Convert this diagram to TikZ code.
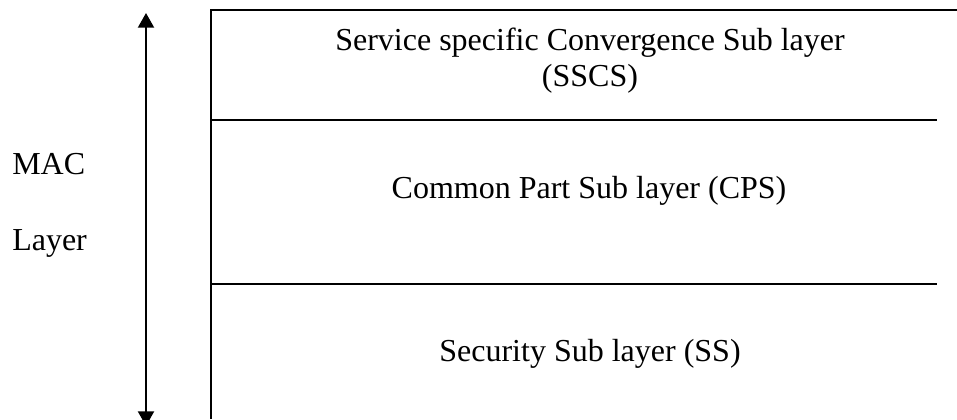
\documentclass[tikz,border=0pt]{standalone}
\usepackage{fontspec}
\setmainfont{Liberation Serif}
\usetikzlibrary{arrows.meta}
\begin{document}
\begin{tikzpicture}[x=0.75pt,y=-0.75pt,
  lbl/.style={anchor=base,inner sep=0pt,font=\fontsize{24}{27}\selectfont},
  boxline/.style={line width=1.5pt},
  dblarrow/.style={line width=1.5pt,{Triangle[width=12pt,length=11pt]}-{Triangle[width=12pt,length=11pt]}}]
\useasboundingbox (0,0) rectangle (957,419);
% layer frame
\coordinate (tl) at (211,10);
\coordinate (tr) at (957,10);
\coordinate (bl) at (211,419);
\coordinate (m1l) at (211,120);
\coordinate (m1r) at (937,120);
\coordinate (m2l) at (211,284);
\coordinate (m2r) at (937,284);
\draw[boxline] (tr) -- (tl) -- (bl);
\draw[boxline] (m1l) -- (m1r);
\draw[boxline] (m2l) -- (m2r);
% arrow
\coordinate (atop) at (146,13);
\coordinate (abot) at (146,426);
\draw[dblarrow] (abot) -- (atop);
% labels
\node[lbl] (sscs1) at (590,50) {Service specific Convergence Sub layer};
\node[lbl] (sscs2) at (590,86) {(SSCS)};
\node[lbl] (cps) at (589,198) {Common Part Sub layer (CPS)};
\node[lbl] (ss) at (590,361) {Security Sub layer (SS)};
\node[lbl,anchor=base west] (mac) at (12,174) {MAC};
\node[lbl,anchor=base west] (layer) at (12,250) {Layer};
\end{tikzpicture}
\end{document}
